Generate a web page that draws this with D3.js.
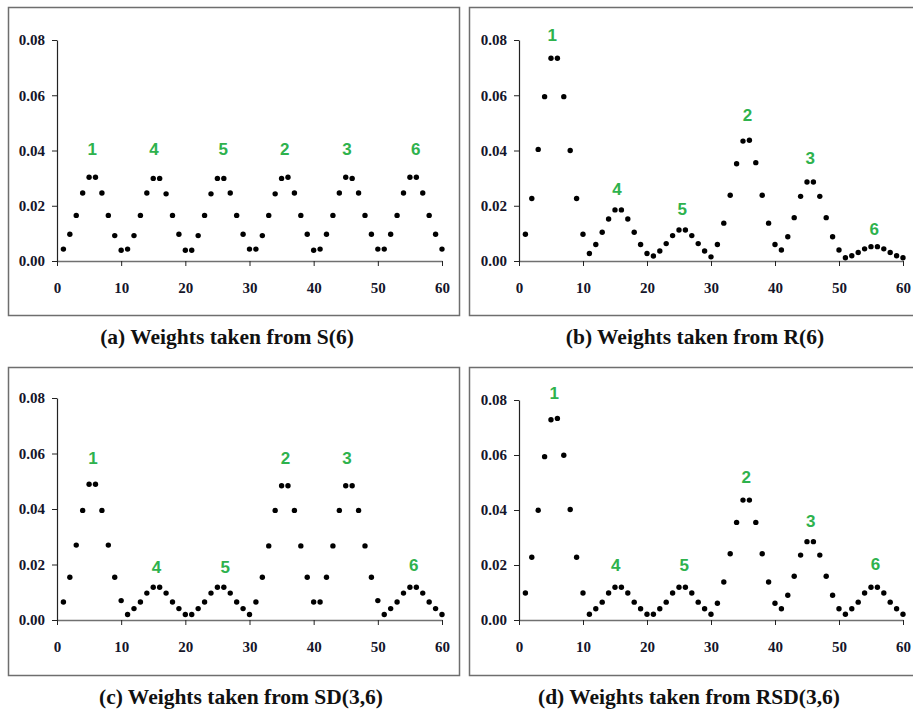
<!DOCTYPE html>
<html><head><meta charset="utf-8">
<script src="https://cdn.jsdelivr.net/npm/d3@7"></script>
<style>body{margin:0;background:#fff}svg{display:block}
.serif{font-family:"Liberation Serif","Times New Roman",serif;font-weight:bold}
.sans{font-family:"Liberation Sans",Arial,sans-serif;font-weight:bold}
</style>
</head><body>
<svg id="c" width="913" height="713"></svg>
<script>
// ---- data ----
const titles = ["(a) Weights taken from S(6)", "(b) Weights taken from R(6)", "(c) Weights taken from SD(3,6)", "(d) Weights taken from RSD(3,6)"];
const groupLabels = ["1", "4", "5", "2", "3", "6"];
const xTicks = [0, 10, 20, 30, 40, 50, 60];
const yTicks = [0, 0.02, 0.04, 0.06, 0.08];

const weightsS = [0.0043,0.0097,0.0165,0.0246,0.0303,0.0303,0.0246,0.0165,0.0092,0.0039,
  0.0043,0.0092,0.0165,0.0246,0.0299,0.0299,0.0243,0.0165,0.0097,0.0039,
  0.0039,0.0092,0.0165,0.0243,0.0299,0.0299,0.0246,0.0165,0.0097,0.0043,
  0.0043,0.0092,0.0165,0.0243,0.0299,0.0303,0.0246,0.0165,0.0097,0.0039,
  0.0043,0.0097,0.0165,0.0246,0.0303,0.0299,0.0246,0.0165,0.0097,0.0043,
  0.0043,0.0097,0.0165,0.0246,0.0303,0.0303,0.0246,0.0165,0.0097,0.0043];
const weightsR = [0.0097,0.0226,0.0404,0.0595,0.0734,0.0734,0.0595,0.0400,0.0226,0.0097,
  0.0027,0.0060,0.0104,0.0152,0.0185,0.0185,0.0152,0.0104,0.0060,0.0027,
  0.0018,0.0036,0.0063,0.0092,0.0112,0.0112,0.0092,0.0063,0.0036,0.0015,
  0.0060,0.0137,0.0238,0.0352,0.0434,0.0437,0.0356,0.0238,0.0137,0.0060,
  0.0040,0.0088,0.0157,0.0234,0.0286,0.0286,0.0234,0.0157,0.0088,0.0040,
  0.0012,0.0019,0.0031,0.0044,0.0052,0.0052,0.0044,0.0031,0.0019,0.0012];
const weightsSD = [0.0065,0.0154,0.0270,0.0395,0.0489,0.0489,0.0395,0.0270,0.0154,0.0070,
  0.0020,0.0041,0.0065,0.0097,0.0118,0.0118,0.0097,0.0065,0.0041,0.0020,
  0.0020,0.0041,0.0065,0.0097,0.0118,0.0118,0.0097,0.0065,0.0041,0.0020,
  0.0065,0.0154,0.0267,0.0395,0.0484,0.0484,0.0395,0.0267,0.0154,0.0065,
  0.0065,0.0154,0.0267,0.0395,0.0484,0.0484,0.0395,0.0267,0.0154,0.0070,
  0.0020,0.0041,0.0065,0.0097,0.0118,0.0118,0.0097,0.0065,0.0041,0.0020];
const weightsRSD = [0.0098,0.0228,0.0399,0.0594,0.0728,0.0733,0.0599,0.0402,0.0228,0.0098,
  0.0021,0.0041,0.0065,0.0098,0.0119,0.0119,0.0098,0.0065,0.0041,0.0021,
  0.0021,0.0041,0.0065,0.0098,0.0119,0.0119,0.0098,0.0065,0.0041,0.0021,
  0.0061,0.0138,0.0241,0.0355,0.0436,0.0436,0.0355,0.0241,0.0138,0.0061,
  0.0041,0.0090,0.0159,0.0236,0.0285,0.0285,0.0236,0.0159,0.0090,0.0041,
  0.0021,0.0041,0.0065,0.0098,0.0119,0.0119,0.0098,0.0065,0.0041,0.0021];

// label anchor points (x index, weight value)
const labelXS = [5.5, 15.1, 25.9, 35.5, 45.2, 55.9];
const labelYS = [0.0405, 0.0405, 0.0405, 0.0405, 0.0405, 0.0405];
const labelXR = [5.2, 15.3, 25.5, 35.7, 45.5, 55.5];
const labelYR = [0.0819, 0.0260, 0.0187, 0.0529, 0.0372, 0.0115];
const labelXSD = [5.6, 15.5, 26.2, 35.6, 45.2, 55.6];
const labelYSD = [0.0583, 0.0192, 0.0192, 0.0583, 0.0583, 0.0197];
const labelXRSD = [5.5, 15.1, 25.8, 35.5, 45.6, 55.7];
const labelYRSD = [0.0825, 0.0199, 0.0199, 0.0520, 0.0362, 0.0205];

// ---- layout ----
const panels = [
  {values: weightsS, lx: labelXS, ly: labelYS, title: titles[0], box:[8,7,451,308], xr:[57,442], yr:[261,40], tx:227, ty:344},
  {values: weightsR, lx: labelXR, ly: labelYR, title: titles[1], box:[469,7,460,308], xr:[519,903], yr:[261,40], tx:695, ty:344},
  {values: weightsSD, lx: labelXSD, ly: labelYSD, title: titles[2], box:[8,367,451,308], xr:[57,442], yr:[620,398], tx:241, ty:704},
  {values: weightsRSD, lx: labelXRSD, ly: labelYRSD, title: titles[3], box:[469,367,460,308], xr:[519,903], yr:[620,400], tx:689, ty:704}
];

const svg = d3.select("#c");

panels.forEach(p => {
  const g = svg.append("g");
  g.append("rect").attr("x", p.box[0]+0.5).attr("y", p.box[1]+0.5)
    .attr("width", p.box[2]).attr("height", p.box[3])
    .attr("fill", "none").attr("stroke", "#6e6e6e").attr("stroke-width", 1.5);

  const x = d3.scaleLinear().domain([0, 60]).range(p.xr);
  const y = d3.scaleLinear().domain([0, 0.08]).range(p.yr);

  const xa = g.append("g").attr("transform", `translate(0,${p.yr[0]})`)
    .call(d3.axisBottom(x).tickValues(xTicks).tickSize(5).tickSizeOuter(0).tickPadding(16).tickFormat(d3.format("d")));
  xa.select(".domain").attr("stroke", "#707070").attr("stroke-width", 1.3);
  xa.selectAll(".tick line").attr("stroke", "#222");

  const ya = g.append("g").attr("transform", `translate(${p.xr[0]},0)`)
    .call(d3.axisLeft(y).tickValues(yTicks).tickSize(5).tickSizeOuter(0).tickPadding(7).tickFormat(d3.format(".2f")));
  ya.select(".domain").attr("stroke", "#222").attr("stroke-width", 1.2);
  ya.selectAll(".tick line").attr("stroke", "#222");

  g.selectAll(".tick text").attr("class", "serif").attr("font-family", null)
    .style("font-size", "15px").style("fill", "#15152a");

  g.append("g").selectAll("circle").data(p.values).join("circle")
    .attr("cx", (d, i) => x(i + 1)).attr("cy", d => y(d)).attr("r", 2.7).attr("fill", "#000");

  g.append("g").selectAll("text").data(groupLabels).join("text")
    .attr("class", "sans")
    .attr("x", (d, i) => x(p.lx[i])).attr("y", (d, i) => y(p.ly[i]))
    .attr("dy", "0.36em").attr("text-anchor", "middle")
    .style("font-size", "17px").style("fill", "#2eb24d").text(d => d);

  g.append("text").attr("class", "serif").attr("x", p.tx).attr("y", p.ty).attr("text-anchor", "middle")
    .style("font-size", "21.5px").style("fill", "#111").text(p.title);
});
</script>
</body></html>
